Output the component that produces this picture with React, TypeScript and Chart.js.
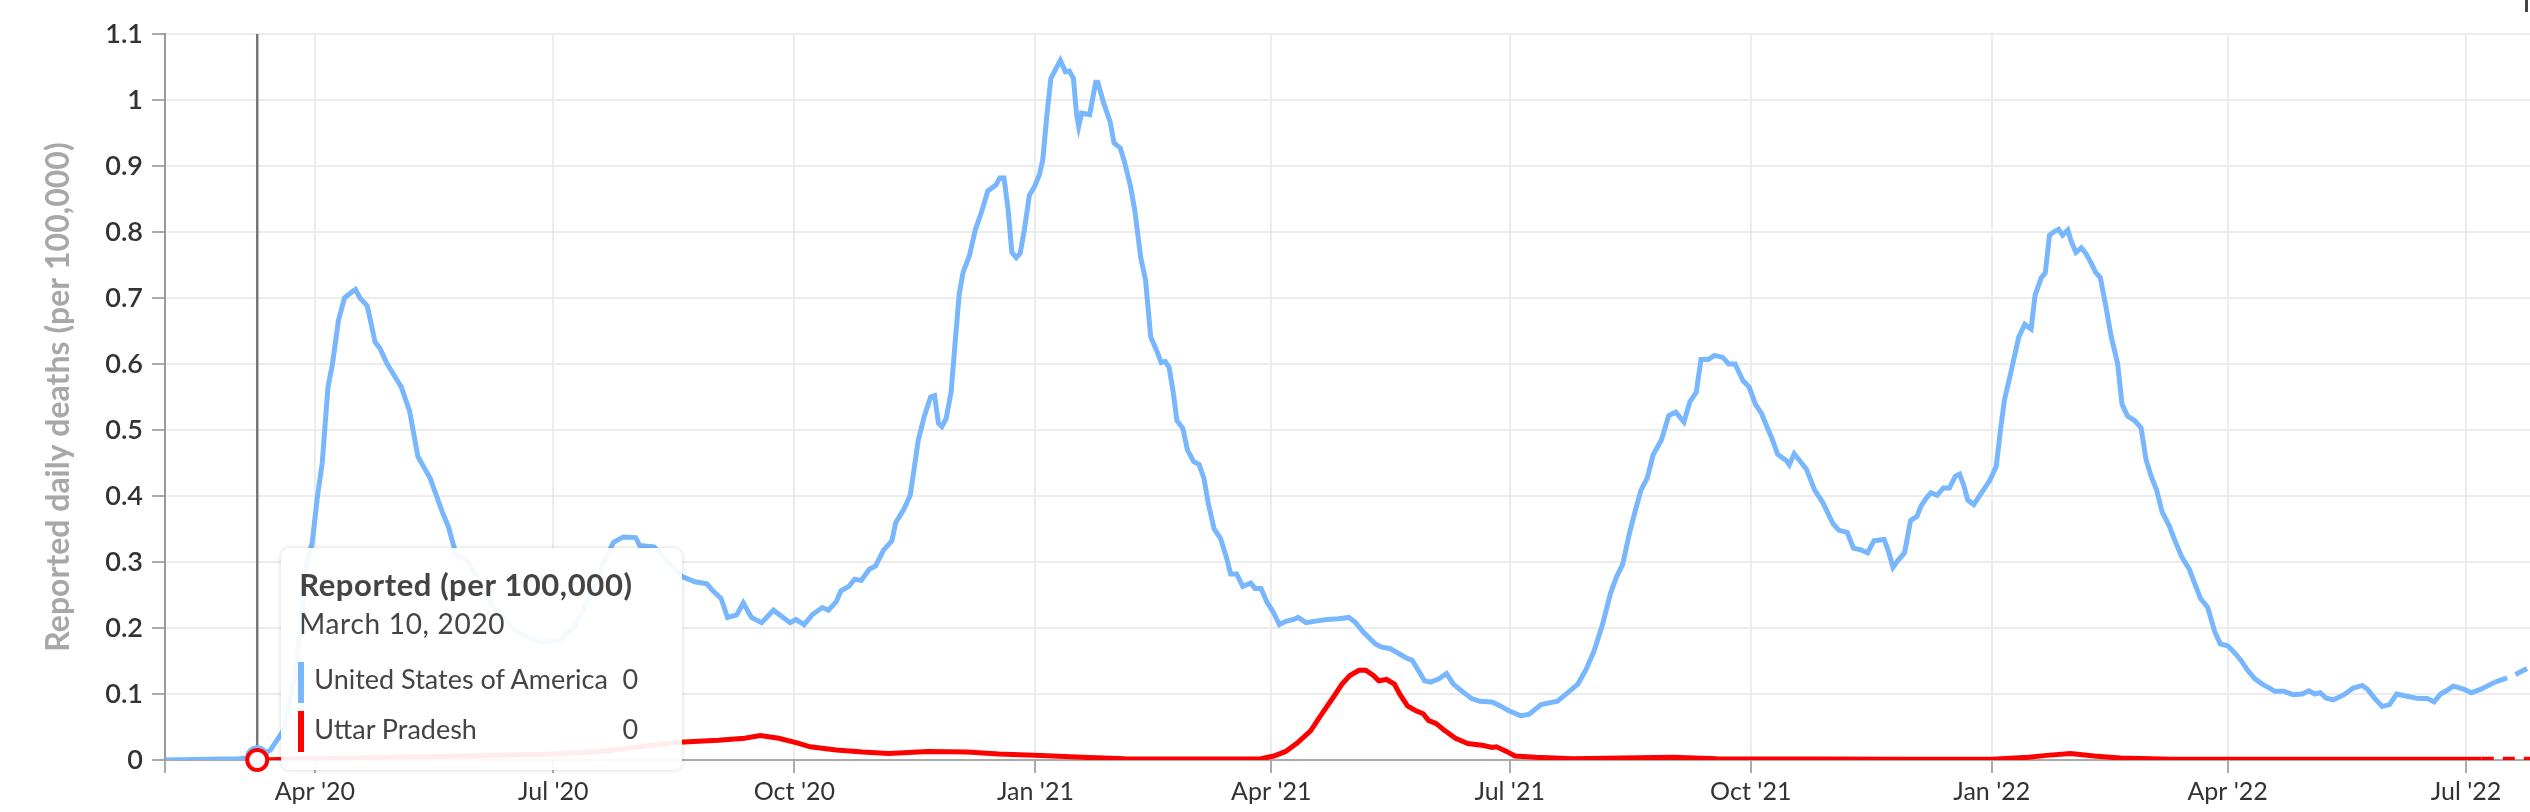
import React, { useEffect, useRef, useState } from 'react';
import { Chart, registerables } from 'chart.js';

Chart.register(...registerables);

// ---- Data (x = day number counted from Jan 1, 2020) ----
const xMinDay = 33.8;
const xMaxDay = 936.4;
const tickDays = [91, 182, 274, 366, 456, 547, 639, 731, 821, 912];
const tickLabels = ["Apr '20", "Jul '20", "Oct '20", "Jan '21", "Apr '21", "Jul '21", "Oct '21", "Jan '22", "Apr '22", "Jul '22"];
const yTicks = [0, 0.1, 0.2, 0.3, 0.4, 0.5, 0.6, 0.7, 0.8, 0.9, 1, 1.1];

const seriesNames = ['United States of America', 'Uttar Pradesh'];
const seriesColors = ['#78b7fd', '#ff0000'];
const yTitle = 'Reported daily deaths (per 100,000)';
const tooltipTitle = 'Reported (per 100,000)';
const hoverDay = 69;
const hoverLabel = 'March 10, 2020';
const usProvisionalFrom = 923;
const upProvisionalFrom = 918;

const usDays = [
  34, 50, 62, 69, 74, 79, 83, 85.5, 88, 90, 92, 93.8, 96, 97.7, 100, 102.3, 104.7, 106.5, 108.2, 111,
  114, 115.8, 118.6, 121.7, 124, 127.2, 130.3, 135, 139.6, 141.9, 145, 149, 153, 159, 167, 172, 178, 184.6, 189.6, 196,
  201, 205, 208.7, 213.4, 215, 220.4, 226.6, 231.2, 236, 240.6, 243, 246, 248.5, 252, 254.5, 257.6, 261.5, 266, 272.4, 274.6,
  277.7, 280.8, 284.7, 287, 290, 291.7, 294.8, 297, 299.5, 302.6, 305, 308, 311.2, 312.7, 315.8, 318.2, 319.7, 321.3, 323.6, 326,
  327.5, 329, 330.3, 331.9, 333.8, 335.3, 336.9, 338.4, 340.8, 343.1, 345.4, 347.8, 350.9, 352.4, 354, 355.6, 357, 358.7, 360.2, 361.8,
  363.7, 365.7, 367.6, 368.8, 370.4, 371.9, 374.3, 375.5, 377.4, 378.9, 380.5, 381.7, 382.5, 383.6, 386.7, 389, 389.8, 392, 394.5, 396,
  398.4, 400, 402.3, 403.9, 406.2, 408, 410, 412.4, 414, 415.5, 417, 418.6, 420, 422.2, 424, 426.4, 428.4, 430.3, 431.9, 434.2,
  436.6, 438.9, 440.5, 442.8, 445.1, 448.2, 449.8, 452.1, 454.5, 456.8, 459.1, 461.5, 464.6, 466.2, 469.3, 472.4, 477.1, 481.7, 485.6, 488,
  491.1, 495.7, 498.1, 501.2, 503.5, 507.4, 509.8, 512.1, 514.5, 516.8, 520, 522.9, 525.5, 527.9, 532.5, 535.6, 540.3, 543.4, 546.5, 551.2,
  554.3, 559, 565.2, 568.3, 573, 576, 579.2, 582.4, 585.5, 587.8, 590.1, 592.5, 594.8, 597.1, 599.5, 601.8, 604.9, 607.7, 610.4, 613.5,
  615.8, 618.2, 620, 622.8, 625.2, 628.3, 630.6, 633, 636, 638.4, 640.8, 643.1, 645.4, 647, 649.3, 652.5, 653.7, 655.6, 658, 660.2,
  663.4, 666.5, 670.4, 672.7, 675.8, 678.2, 681.3, 683.6, 686, 689.9, 691.4, 693.3, 695.3, 697.7, 700, 702.4, 704, 706.2, 707.8, 710.1,
  712.5, 714.8, 717.1, 718.7, 720.3, 721.8, 724.1, 725.9, 728.3, 730.4, 732.7, 734.3, 735.8, 738.2, 741.3, 743.6, 746, 747.5, 749.9, 751.4,
  753, 754.6, 756.5, 758, 760, 761.3, 763.1, 765.2, 766.8, 768.9, 770.6, 772.4, 774.5, 776.6, 779, 780.7, 782.8, 785.6, 788, 789.8,
  791.8, 793.9, 796, 798.8, 800.9, 803.6, 806.4, 808.5, 810.6, 813.4, 816.1, 818.2, 821, 823.1, 825.9, 828.6, 831.4, 834.2, 837, 839,
  842.5, 846, 849.5, 852, 854.3, 856.4, 858.5, 861.3, 865.4, 868.9, 872.4, 874.4, 877.2, 880, 882.8, 885.5, 889, 893.9, 897.3, 899.8,
  902.3, 905, 907.1, 911.3, 914, 917.5, 923, 929, 937, 945,
];
const usValues = [
  0, 0.001, 0.002, 0.004, 0.015, 0.045, 0.12, 0.2, 0.3, 0.33, 0.4, 0.45, 0.565, 0.6, 0.666, 0.7, 0.708, 0.713, 0.7, 0.688,
  0.633, 0.624, 0.6, 0.58, 0.565, 0.528, 0.46, 0.427, 0.376, 0.354, 0.31, 0.303, 0.277, 0.232, 0.197, 0.186, 0.179, 0.182, 0.2, 0.247,
  0.298, 0.33, 0.338, 0.337, 0.325, 0.323, 0.296, 0.278, 0.27, 0.267, 0.256, 0.245, 0.216, 0.22, 0.238, 0.216, 0.208, 0.227, 0.208, 0.213,
  0.205, 0.22, 0.231, 0.227, 0.24, 0.256, 0.263, 0.274, 0.272, 0.289, 0.294, 0.318, 0.332, 0.36, 0.38, 0.401, 0.441, 0.485, 0.521, 0.55,
  0.552, 0.51, 0.505, 0.517, 0.557, 0.63, 0.706, 0.739, 0.764, 0.804, 0.83, 0.862, 0.871, 0.882, 0.882, 0.833, 0.769, 0.761, 0.768, 0.804,
  0.856, 0.869, 0.888, 0.909, 0.978, 1.033, 1.051, 1.06, 1.043, 1.044, 1.033, 0.978, 0.96, 0.98, 0.978, 1.027, 1.027, 0.996, 0.967, 0.935,
  0.927, 0.906, 0.869, 0.833, 0.761, 0.728, 0.641, 0.619, 0.602, 0.604, 0.595, 0.557, 0.514, 0.503, 0.47, 0.452, 0.448, 0.427, 0.39, 0.35,
  0.336, 0.307, 0.282, 0.282, 0.263, 0.268, 0.26, 0.26, 0.238, 0.224, 0.205, 0.21, 0.213, 0.216, 0.208, 0.21, 0.213, 0.214, 0.216, 0.209,
  0.194, 0.176, 0.171, 0.169, 0.164, 0.155, 0.151, 0.136, 0.12, 0.118, 0.123, 0.131, 0.115, 0.107, 0.093, 0.089, 0.088, 0.082, 0.075, 0.067,
  0.069, 0.084, 0.089, 0.099, 0.115, 0.136, 0.165, 0.205, 0.253, 0.278, 0.296, 0.34, 0.376, 0.409, 0.427, 0.463, 0.485, 0.522, 0.527, 0.512,
  0.543, 0.557, 0.607, 0.607, 0.613, 0.61, 0.6, 0.6, 0.575, 0.565, 0.539, 0.525, 0.503, 0.488, 0.463, 0.454, 0.447, 0.464, 0.452, 0.441,
  0.409, 0.39, 0.358, 0.348, 0.345, 0.321, 0.318, 0.314, 0.332, 0.334, 0.318, 0.292, 0.303, 0.314, 0.363, 0.369, 0.385, 0.398, 0.405, 0.401,
  0.412, 0.412, 0.43, 0.433, 0.416, 0.394, 0.387, 0.398, 0.412, 0.425, 0.445, 0.5, 0.545, 0.586, 0.641, 0.66, 0.653, 0.704, 0.731, 0.738,
  0.795, 0.8, 0.804, 0.795, 0.803, 0.786, 0.769, 0.776, 0.768, 0.753, 0.739, 0.731, 0.688, 0.641, 0.601, 0.539, 0.521, 0.514, 0.503, 0.456,
  0.43, 0.409, 0.376, 0.354, 0.332, 0.307, 0.289, 0.267, 0.245, 0.231, 0.194, 0.176, 0.173, 0.165, 0.152, 0.136, 0.123, 0.115, 0.109, 0.104,
  0.104, 0.099, 0.1, 0.105, 0.1, 0.102, 0.094, 0.091, 0.099, 0.109, 0.113, 0.107, 0.093, 0.081, 0.084, 0.1, 0.097, 0.093, 0.093, 0.088,
  0.1, 0.106, 0.112, 0.107, 0.102, 0.107, 0.118, 0.126, 0.142, 0.15,
];

const upDays = [
  69, 91, 120, 150, 182, 200, 215, 230, 245, 255, 261, 268, 275, 280, 290, 300, 310, 325, 340, 352,
  368, 384, 400, 430, 452, 457, 461.5, 466, 471, 475.5, 480, 483, 486, 489.5, 492, 495, 497, 500, 503, 505,
  508, 511, 514, 516, 519, 521.7, 526.3, 531, 537, 540.3, 541.9, 545.8, 549, 557, 571, 609, 626, 700, 731, 745,
  752, 761, 770, 780, 800, 918, 945,
];
const upValues = [
  0, 0.002, 0.004, 0.006, 0.009, 0.013, 0.02, 0.027, 0.03, 0.033, 0.037, 0.033, 0.026, 0.02, 0.015, 0.012, 0.01, 0.013, 0.012, 0.009,
  0.007, 0.004, 0.002, 0.0015, 0.002, 0.006, 0.013, 0.026, 0.044, 0.071, 0.097, 0.115, 0.128, 0.136, 0.136, 0.128, 0.12, 0.122, 0.115, 0.1,
  0.082, 0.075, 0.07, 0.06, 0.055, 0.046, 0.033, 0.025, 0.022, 0.019, 0.02, 0.013, 0.006, 0.004, 0.002, 0.004, 0.002, 0.001, 0.001, 0.004,
  0.007, 0.01, 0.006, 0.003, 0.001, 0.001, 0.001,
];

const fmt = (v: number) => String(parseFloat(v.toFixed(2)));

export default function App() {
  const canvasRef = useRef<HTMLCanvasElement | null>(null);
  const [tip, setTip] = useState<{ left: number; top: number } | null>(null);

  useEffect(() => {
    const canvas = canvasRef.current;
    if (!canvas) return;

    const usData = usDays.map((d, i) => ({ x: d, y: usValues[i] }));
    const upData = upDays.map((d, i) => ({ x: d, y: upValues[i] }));

    const hoverPlugin = {
      id: 'hoverMarks',
      beforeDatasetsDraw(chart: any) {
        const { ctx, chartArea, scales } = chart;
        const x = scales.x.getPixelForValue(hoverDay);
        ctx.save();
        ctx.strokeStyle = '#777777';
        ctx.lineWidth = 2.5;
        ctx.beginPath();
        ctx.moveTo(x, chartArea.top);
        ctx.lineTo(x, chartArea.bottom);
        ctx.stroke();
        ctx.restore();
      },
      afterDatasetsDraw(chart: any) {
        const { ctx, scales } = chart;
        const x = scales.x.getPixelForValue(hoverDay);
        const vals = [usValues[usDays.indexOf(hoverDay)], upValues[upDays.indexOf(hoverDay)]];
        vals.forEach((v, i) => {
          const y = scales.y.getPixelForValue(v);
          ctx.save();
          ctx.beginPath();
          ctx.arc(x, y, 10, 0, Math.PI * 2);
          ctx.fillStyle = '#ffffff';
          ctx.fill();
          ctx.lineWidth = 4;
          ctx.strokeStyle = seriesColors[i];
          ctx.stroke();
          ctx.restore();
        });
      },
    };

    const chart = new Chart(canvas, {
      type: 'line',
      data: {
        datasets: [
          {
            label: seriesNames[0],
            data: usData,
            borderColor: seriesColors[0],
            backgroundColor: seriesColors[0],
            borderWidth: 5,
            pointRadius: 0,
            tension: 0,
            order: 1,
            segment: {
              borderDash: (c: any) => (c.p0.parsed.x >= usProvisionalFrom ? [13, 9] : undefined),
            },
          },
          {
            label: seriesNames[1],
            data: upData,
            borderColor: seriesColors[1],
            backgroundColor: seriesColors[1],
            borderWidth: 5,
            pointRadius: 0,
            tension: 0,
            order: 0,
            segment: {
              borderDash: (c: any) => (c.p0.parsed.x >= upProvisionalFrom ? [12, 9] : undefined),
            },
          },
        ],
      },
      options: {
        animation: false,
        responsive: false,
        maintainAspectRatio: false,
        devicePixelRatio: 1,
        events: [],
        layout: { padding: { top: 34, right: 0, bottom: 0, left: 0 } },
        plugins: {
          legend: { display: false },
          tooltip: { enabled: false },
        },
        scales: {
          x: {
            type: 'linear',
            min: xMinDay,
            max: xMaxDay,
            afterBuildTicks: (s: any) => {
              s.ticks = [xMinDay, ...tickDays].map((v) => ({ value: v }));
            },
            afterFit: (s: any) => {
              s.height = 52;
            },
            ticks: {
              autoSkip: false,
              maxRotation: 0,
              padding: 4,
              color: '#333333',
              font: { family: 'Lato', size: 25 },
              callback: (v: any) => {
                const i = tickDays.indexOf(v);
                return i >= 0 ? tickLabels[i] : '';
              },
            },
            grid: {
              color: (c: any) => (c.tick && c.tick.value === xMinDay ? 'rgba(0,0,0,0)' : '#ececec'),
              lineWidth: 2,
              tickColor: '#aaaaaa',
              tickLength: 13,
              tickWidth: 2,
            },
            border: { color: '#aaaaaa', width: 2 },
          },
          y: {
            min: 0,
            max: 1.1,
            afterBuildTicks: (s: any) => {
              s.ticks = yTicks.map((v) => ({ value: v }));
            },
            afterFit: (s: any) => {
              s.width = 165;
            },
            ticks: {
              padding: 9,
              color: '#333333',
              font: { family: 'Lato', size: 27, weight: '600' },
              callback: (v: any) => String(Math.round(v * 10) / 10),
            },
            grid: {
              color: '#ececec',
              lineWidth: 2,
              tickColor: '#aaaaaa',
              tickLength: 13,
              tickWidth: 2,
            },
            border: { color: '#999999', width: 2 },
            title: {
              display: true,
              text: yTitle,
              color: '#a8a8a8',
              font: { family: 'Lato', size: 32, weight: 'bold' },
              padding: { top: 39, bottom: 0 },
            },
          },
        },
      },
      plugins: [hoverPlugin],
    } as any);

    const px = chart.scales.x.getPixelForValue(hoverDay);
    setTip({ left: px + 24, top: chart.chartArea.bottom + 10 - 222 });

    return () => {
      chart.destroy();
    };
  }, []);

  const usNow = usValues[usDays.indexOf(hoverDay)];
  const upNow = upValues[upDays.indexOf(hoverDay)];
  const rows = [
    { name: seriesNames[0], color: seriesColors[0], value: fmt(usNow) },
    { name: seriesNames[1], color: seriesColors[1], value: fmt(upNow) },
  ];

  return (
    <div style={{ position: 'absolute', left: 0, top: 0, width: 2530, height: 812, background: '#ffffff', overflow: 'hidden' }}>
      <canvas ref={canvasRef} width={2530} height={812} style={{ width: 2530, height: 812, display: 'block' }} />
      <div style={{ position: 'absolute', left: 2525, top: 0, width: 3, height: 12, background: '#444' }} />
      {tip && (
        <div
          style={{
            position: 'absolute',
            left: tip.left,
            top: tip.top,
            width: 401,
            height: 222,
            background: 'rgba(255,255,255,0.93)',
            borderRadius: 9,
            boxShadow: '0 0 5px rgba(0,0,0,0.16)',
            fontFamily: 'Lato, sans-serif',
            color: '#444444',
          }}
        >
          <div style={{ position: 'absolute', left: 18, top: 18, fontSize: 31, lineHeight: 1.2, fontWeight: 700, letterSpacing: 0.6, whiteSpace: 'nowrap' }}>
            {tooltipTitle}
          </div>
          <div style={{ position: 'absolute', left: 18, top: 59, fontSize: 28, lineHeight: 1.2, letterSpacing: 0.7, whiteSpace: 'nowrap' }}>
            {hoverLabel}
          </div>
          {rows.map((r, i) => (
            <React.Fragment key={r.name}>
              <div style={{ position: 'absolute', left: 17, top: 114 + i * 49, width: 6, height: 41, background: r.color }} />
              <div style={{ position: 'absolute', left: 33, top: 115 + i * 50, fontSize: 27, lineHeight: 1.2, whiteSpace: 'nowrap' }}>
                {r.name}
              </div>
              <div style={{ position: 'absolute', right: 44, top: 115 + i * 50, fontSize: 27, lineHeight: 1.2, whiteSpace: 'nowrap' }}>
                {r.value}
              </div>
            </React.Fragment>
          ))}
        </div>
      )}
    </div>
  );
}
